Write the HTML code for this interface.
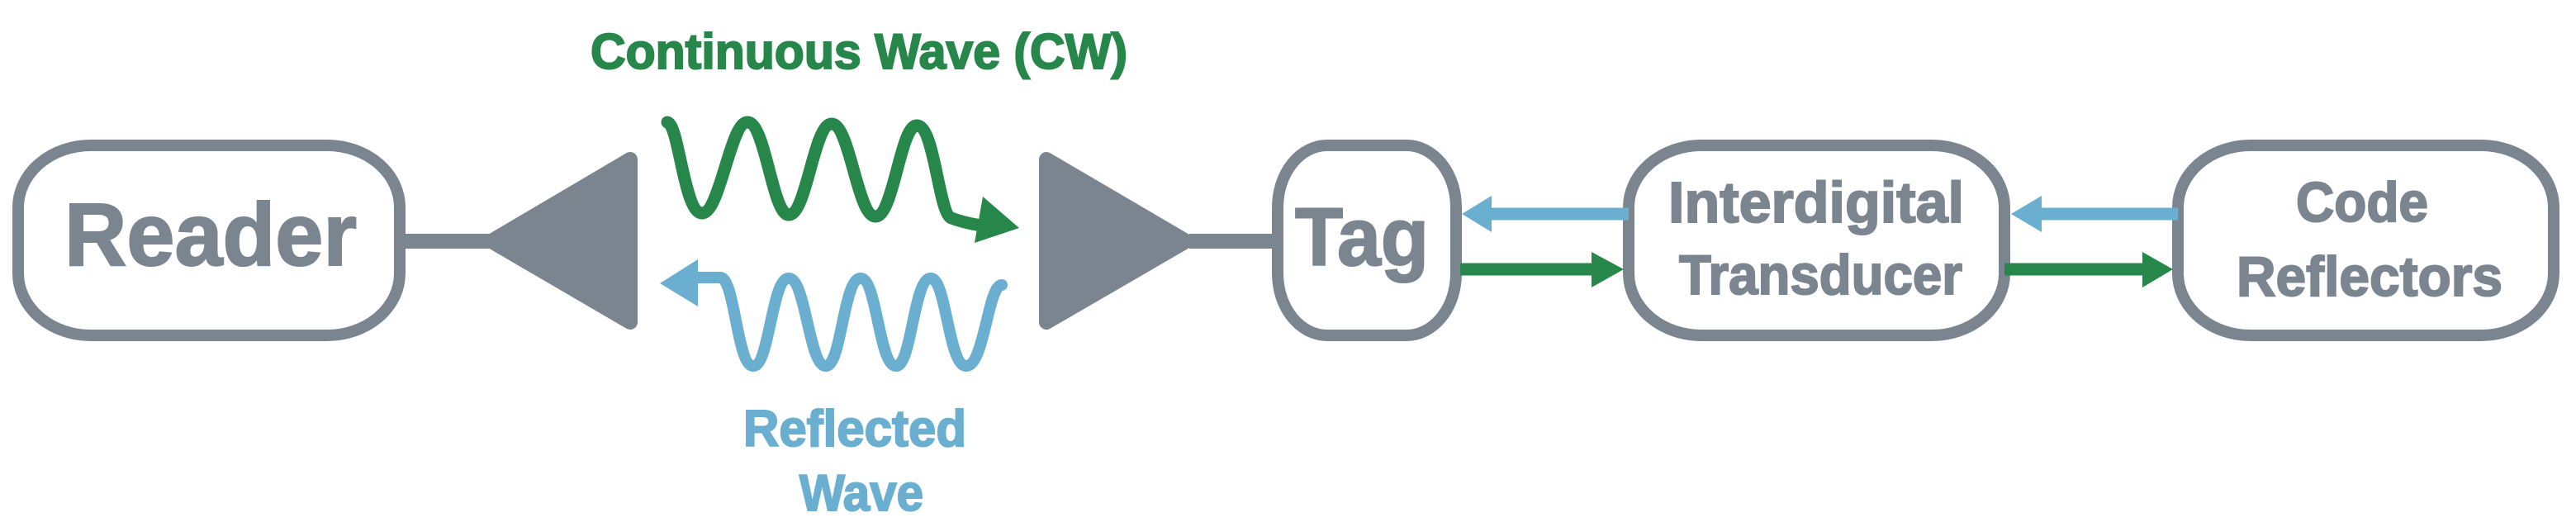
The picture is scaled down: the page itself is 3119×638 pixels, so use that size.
<!DOCTYPE html>
<html><head><meta charset="utf-8"><style>
html,body{margin:0;padding:0;background:#fff;}
svg{display:block;}
text{font-family:"Liberation Sans",sans-serif;font-weight:bold;stroke-width:2;}
</style></head><body>
<svg width="3119" height="638" viewBox="0 0 3119 638" xmlns="http://www.w3.org/2000/svg">
<g fill="none" stroke="#7b8590" stroke-width="14">
<rect x="22" y="176" width="462" height="230" rx="88" ry="75"/>
<rect x="1547" y="176" width="216" height="230" rx="60" ry="75"/>
<rect x="1972" y="176" width="455" height="230" rx="88" ry="75"/>
<rect x="2637" y="176" width="455" height="230" rx="88" ry="75"/>
</g>
<g fill="#7b8590" stroke="#7b8590" stroke-width="18" stroke-linejoin="round">
<rect x="484" y="283" width="110" height="18" stroke="none"/>
<polygon points="595,292 763,193 763,390"/>
<rect x="1440" y="283" width="110" height="18" stroke="none"/>
<polygon points="1436,292 1267,193 1267,390"/>
</g>
<path d="M808,148 C822,150 828,258 850,258 C872,258 884,148 905,148 C927,148 935,260 955,260 C977,260 985,150 1007,150 C1029,150 1038,262 1060,262 C1082,262 1090,152 1110,152 C1132,152 1136,258 1152,264 C1165,269 1180,272 1195,274" fill="none" stroke="#27864a" stroke-width="15" stroke-linecap="round"/>
<polygon points="1190,238 1234,276 1180,294" fill="#27864a"/>
<path d="M1213,345 C1196,345 1192,443 1170,443 C1148,443 1146,337 1127,337 C1106,337 1104,443 1085,443 C1064,443 1062,337 1042,337 C1021,337 1019,443 1000,443 C979,443 976,337 955,337 C934,337 932,443 912,443 C892,443 890,336 872,336 L840,336" fill="none" stroke="#6aaed0" stroke-width="14" stroke-linecap="round"/>
<polygon points="845,314 799,343 845,371" fill="#6aaed0"/>
<g stroke-width="15">
<line x1="1800" y1="259" x2="1972" y2="259" stroke="#6aaed0"/>
<line x1="2468" y1="259" x2="2637" y2="259" stroke="#6aaed0"/>
<line x1="1768" y1="326" x2="1932" y2="326" stroke="#27864a"/>
<line x1="2427" y1="326" x2="2598" y2="326" stroke="#27864a"/>
</g>
<polygon points="1770,259 1806,237 1806,281" fill="#6aaed0"/>
<polygon points="2435,259 2472,237 2472,281" fill="#6aaed0"/>
<polygon points="1966,326 1927,305 1927,348" fill="#27864a"/>
<polygon points="2631,326 2594,305 2594,348" fill="#27864a"/>
<text x="715" y="83" font-size="60" fill="#27864a" stroke="#27864a" textLength="650" lengthAdjust="spacingAndGlyphs">Continuous Wave (CW)</text>
<text x="78" y="321" font-size="108" fill="#7b8590" stroke="#7b8590" textLength="354" lengthAdjust="spacingAndGlyphs">Reader</text>
<text x="900" y="540" font-size="62" fill="#6aaed0" stroke="#6aaed0" textLength="270" lengthAdjust="spacingAndGlyphs">Reflected</text>
<text x="968" y="618" font-size="62" fill="#6aaed0" stroke="#6aaed0" textLength="150" lengthAdjust="spacingAndGlyphs">Wave</text>
<text x="1568" y="321" font-size="99" fill="#7b8590" stroke="#7b8590" textLength="162" lengthAdjust="spacingAndGlyphs">Tag</text>
<text x="2020" y="269" font-size="70" fill="#7b8590" stroke="#7b8590" textLength="358" lengthAdjust="spacingAndGlyphs">Interdigital</text>
<text x="2033" y="356" font-size="68" fill="#7b8590" stroke="#7b8590" textLength="343" lengthAdjust="spacingAndGlyphs">Transducer</text>
<text x="2780" y="268" font-size="68" fill="#7b8590" stroke="#7b8590" textLength="160" lengthAdjust="spacingAndGlyphs">Code</text>
<text x="2708" y="358" font-size="68" fill="#7b8590" stroke="#7b8590" textLength="322" lengthAdjust="spacingAndGlyphs">Reflectors</text>
</svg>
</body></html>
